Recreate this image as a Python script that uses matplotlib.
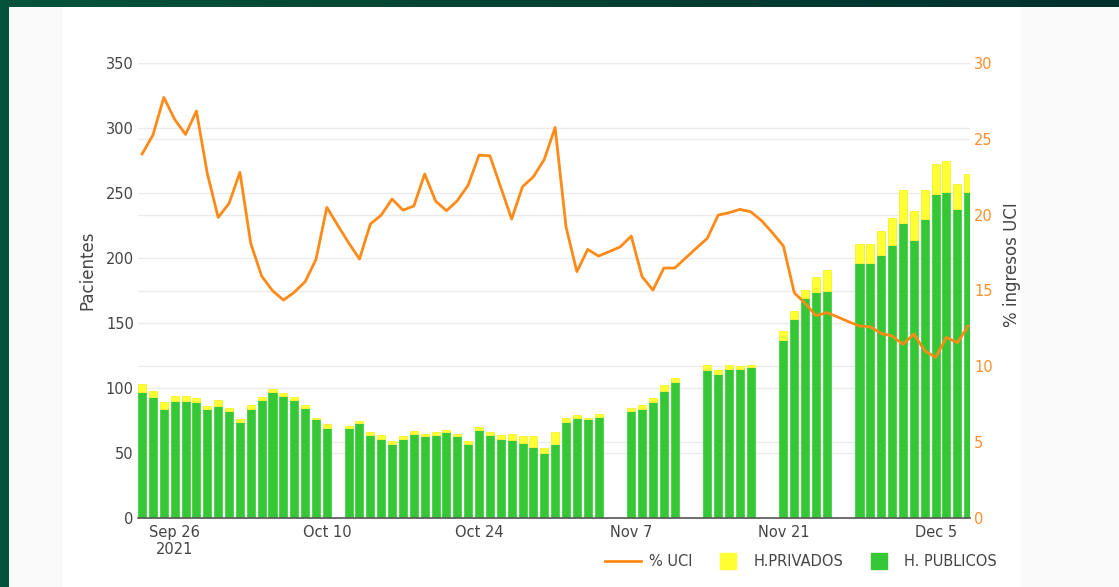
import numpy as np
import pandas as pd
import matplotlib
matplotlib.use('Agg')
import matplotlib.pyplot as plt
from matplotlib.lines import Line2D
from matplotlib.patches import Rectangle

# datos (23 sep - 8 dic 2021), None = dia sin barra
fechas = pd.date_range('2021-09-23', '2021-12-08', freq='D')

publicos = [97, 93, 84, 90, 90, 89, 84, 86, 82, 74, 84, 91, 97, 94, 91, 85, 76, 69,
            None,
            69, 73, 64, 61, 57, 61, 65, 63, 64, 66, 63, 57, 68, 64, 61, 60, 58, 55, 50, 57, 74, 77, 76, 78,
            None, None,
            82, 84, 89, 98, 105,
            None, None,
            114, 111, 115, 115, 116,
            None, None,
            137, 153, 169, 174, 175,
            None, None,
            196, 196, 202, 210, 227, 214, 230, 249, 251, 238, 251]

privados = [6, 5, 5, 4, 4, 3, 2, 5, 3, 2, 3, 2, 2, 2, 2, 2, 1, 3,
            None,
            2, 2, 2, 3, 2, 2, 2, 2, 2, 2, 2, 2, 2, 2, 3, 5, 5, 8, 4, 9, 3, 2, 1, 2,
            None, None,
            3, 3, 3, 4, 3,
            None, None,
            4, 3, 3, 2, 2,
            None, None,
            7, 6, 6, 11, 16,
            None, None,
            15, 15, 19, 21, 25, 22, 22, 23, 24, 19, 14]

uci = [24.0, 25.25, 27.73, 26.28, 25.29, 26.83, 22.72, 19.82, 20.74, 22.79,
       18.1, 15.95, 14.99, 14.37, 14.88, 15.58, 17.05, 20.48, 19.3, 18.15,
       17.07, 19.38, 19.97, 21.03, 20.3, 20.57, 22.68, 20.9, 20.26, 20.92,
       21.95, 23.93, 23.88, 21.8, 19.71, 21.84, 22.5, 23.64, 25.75, 19.2,
       16.24, 17.71, 17.27, 17.57, 17.88, 18.59, 15.91, 15.03, 16.48, 16.48,
       17.14, 17.8, 18.44, 19.97, 20.13, 20.35, 20.19, 19.6, 18.8, 17.93,
       14.85, 14.15, 13.34, 13.54, 13.25, 12.94, 12.66, 12.61, 12.17, 12.0,
       11.45, 12.13, 11.03, 10.59, 11.91, 11.56, 12.66]

ticks = pd.to_datetime(['2021-09-26', '2021-10-10', '2021-10-24', '2021-11-07', '2021-11-21', '2021-12-05'])
tick_labels = ['Sep 26\n2021', 'Oct 10', 'Oct 24', 'Nov 7', 'Nov 21', 'Dec 5']

df = pd.DataFrame({'pub': publicos, 'priv': privados, 'uci': uci}, index=fechas)
df = df.astype(float)
barras = df.dropna(subset=['pub'])

verde = '#36c736'
amarillo = '#ffff33'
naranja = '#ff8a17'
gris = '#444444'

W, H = 1119, 587
fig = plt.figure(figsize=(W / 100, H / 100), dpi=100)

# fondo: borde verde oscuro + panel
bg = fig.add_axes([0, 0, 1, 1], zorder=-5)
grad = np.linspace(0, 1, 256).reshape(1, -1)
cmap = matplotlib.colors.LinearSegmentedColormap.from_list('g', ['#04533a', '#02302c'])
bg.imshow(grad, aspect='auto', cmap=cmap, extent=[0, 1, 0, 1])
bg.add_patch(Rectangle((9 / W, 0), 1, (H - 7) / H, facecolor='#fafafa', edgecolor='none'))
bg.add_patch(Rectangle((63 / W, 0), (1021 - 63) / W, (H - 7) / H, facecolor='white', edgecolor='none'))
bg.set_xlim(0, 1)
bg.set_ylim(0, 1)
bg.set_axis_off()

ax1 = fig.add_axes([138 / W, (H - 518) / H, (970 - 138) / W, (518 - 63) / H])
ax1.patch.set_alpha(0)
ax2 = ax1.twinx()

ax1.bar(barras.index, barras['pub'], width=0.74, color=verde, edgecolor='#4fd44f',
        linewidth=0.7, label='H. PUBLICOS', zorder=3)
ax1.bar(barras.index, barras['priv'], bottom=barras['pub'], width=0.74, color=amarillo,
        edgecolor='#f4f43a', linewidth=0.7, label='H.PRIVADOS', zorder=3)
ax2.plot(df.index, df['uci'], color=naranja, linewidth=2.0, label='% UCI', zorder=4)

ax1.set_ylim(0, 350)
ax2.set_ylim(0, 30)
ax1.set_yticks(range(0, 351, 50))
ax2.set_yticks(range(0, 31, 5))

# rejilla de ambos ejes detras de las barras
for t in range(50, 351, 50):
    ax1.axhline(t, color='#ebebeb', linewidth=1, zorder=0)
for t in range(5, 31, 5):
    ax1.axhline(t * 350 / 30, color='#ebebeb', linewidth=1, zorder=0)

x0 = fechas[0] - pd.Timedelta(hours=9)
x1 = fechas[-1] + pd.Timedelta(hours=4)
ax1.set_xlim(x0, x1)
ax1.set_xticks(ticks)
ax1.set_xticklabels(tick_labels)

for ax in (ax1, ax2):
    for s in ax.spines.values():
        s.set_visible(False)
ax1.spines['bottom'].set_visible(True)
ax1.spines['bottom'].set_color('#555555')
ax1.spines['bottom'].set_linewidth(1.2)
ax1.spines['bottom'].set_zorder(5)

ax1.tick_params(axis='x', length=0, pad=5, labelsize=10.5, labelcolor=gris)
ax1.tick_params(axis='y', length=0, pad=3, labelsize=10.5, labelcolor=gris)
ax2.tick_params(axis='y', length=0, pad=3, labelsize=10.5, labelcolor='#ff8f2a')

fig.text(87 / W, 1 - 270 / H, 'Pacientes', rotation=90, ha='center', va='center',
         fontsize=12, color=gris)
fig.text(1012 / W, 1 - 265 / H, '% ingresos UCI', rotation=90, ha='center', va='center',
         fontsize=12, color=gris)

handles = [Line2D([], [], color=naranja, linewidth=2.0),
           Line2D([], [], marker='s', linestyle='none', markersize=11, color=amarillo),
           Line2D([], [], marker='s', linestyle='none', markersize=11, color=verde)]
fig.legend(handles, ['% UCI', 'H.PRIVADOS', 'H. PUBLICOS'], loc='center',
           bbox_to_anchor=(801 / W, (H - 562) / H), ncol=3, frameon=False,
           fontsize=10.5, labelcolor=gris, handlelength=2.5, handletextpad=0.5,
           columnspacing=1.2)

fig.savefig('out.png', dpi=100)
